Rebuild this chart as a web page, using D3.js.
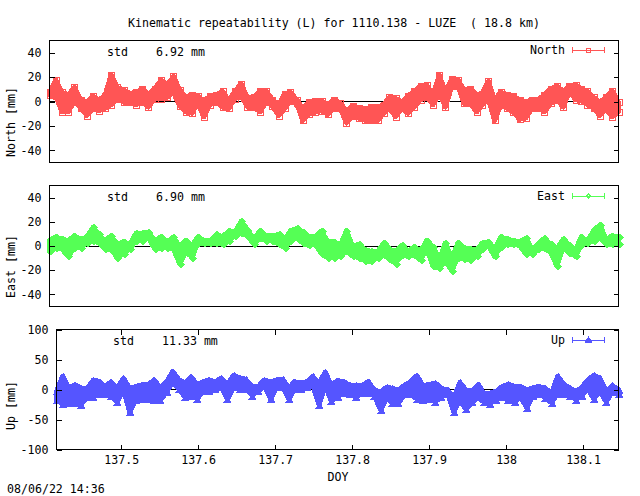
<!DOCTYPE html>
<html>
<head>
<meta charset="utf-8">
<script src="https://cdn.jsdelivr.net/npm/d3@7"></script>
<style>
  body { margin: 0; background: #fff; }
  text { font-family: "DejaVu Sans Mono", monospace; font-size: 11.6px; fill: #000; white-space: pre; }
</style>
</head>
<body>
<svg width="640" height="496"></svg>
<script>
// day of year, one entry per column of the symbol cloud
const doy = [137.416,137.424,137.432,137.440,137.448,137.456,137.464,137.472,137.479,137.487,
137.495,137.503,137.511,137.519,137.527,137.535,137.543,137.551,137.559,137.567,
137.575,137.583,137.591,137.599,137.606,137.614,137.622,137.630,137.638,137.646,
137.654,137.662,137.670,137.678,137.686,137.694,137.702,137.710,137.718,137.725,
137.733,137.741,137.749,137.757,137.765,137.773,137.781,137.789,137.797,137.805,
137.813,137.821,137.829,137.837,137.845,137.852,137.860,137.868,137.876,137.884,
137.892,137.900,137.908,137.916,137.924,137.932,137.940,137.948,137.956,137.964,
137.971,137.979,137.987,137.995,138.003,138.011,138.019,138.027,138.035,138.043,
138.051,138.059,138.067,138.075,138.083,138.091,138.098,138.106,138.114,138.122,
138.130,138.138,138.146];

// upper and lower edge of the cloud in mm
const northHi = [10,20,10,8,14,4,2,7,4,7,24,14,12,9,10,13,8,13,20,16,23,12,6,8,7,3,7,8,11,3,11,17,5,6,11,11,4,0,9,10,4,-3,2,3,
3,0,4,1,-5,-1,-3,-4,-2,-2,0,6,5,2,7,11,15,16,8,24,10,21,20,12,13,8,9,19,4,10,8,7,4,2,4,4,8,13,15,11,15,16,13,11,6,2,6,11,2];
const northLo = [3,2,-11,-11,-2,-8,-14,-8,-10,-8,-5,0,-3,-3,-5,-3,-7,0,0,1,5,-6,-11,-12,-4,-15,-5,-3,-7,-8,0,2,-7,-7,-11,-3,-6,-14,-8,-2,-4,-18,-13,-11,
-10,-13,-8,-8,-20,-14,-16,-18,-18,-18,-12,-8,-15,-8,-12,-7,-1,1,-5,4,-7,10,10,-4,-4,-11,-5,0,-18,-5,-8,-11,-17,-16,-8,-8,-11,-4,-1,-7,6,-1,-2,-5,-8,-14,-9,-15,-11];

const eastHi = [7,10,8,7,11,8,10,18,12,7,11,4,6,4,13,13,14,7,10,6,10,2,7,3,10,7,7,12,10,15,14,23,16,8,15,11,11,12,8,15,17,14,10,10,15,6,6,3,15,2,4,-1,-2,-2,5,0,-2,3,-2,2,-2,
7,2,-9,5,-8,5,1,0,-1,5,6,0,10,8,7,6,9,0,4,9,4,0,8,3,-1,10,7,15,20,8,11,10];
const eastLo = [-7,-4,-5,-11,-4,-4,0,2,0,-5,-5,-12,-9,-5,2,2,4,-5,-4,-4,-5,-17,-7,-12,0,0,0,0,-1,2,6,8,6,-1,4,2,2,-1,-4,2,4,0,-2,-1,-9,-12,-12,-11,-7,-11,-12,-15,-15,-12,-10,-13,-17,-10,-11,-10,-14,
-5,-19,-21,-15,-23,-12,-13,-14,-11,-5,-2,-11,-3,-1,-1,-2,-9,-9,-5,-4,-8,-19,-4,-8,-11,-2,0,2,4,-1,-1,-1];

const upHi = [2,27,7,13,7,7,21,18,10,18,7,24,7,10,13,13,21,7,18,35,21,16,26,13,18,21,18,24,13,29,24,22,10,10,21,18,21,22,7,18,16,18,27,15,34,12,20,18,12,12,12,18,4,1,9,7,4,12,18,28,12,
13,16,7,4,-9,17,4,2,13,-1,-1,2,10,14,10,10,4,8,10,7,-1,27,14,7,2,8,21,29,24,2,12,4];
const upLo = [-23,-29,-28,-28,-30,-18,-18,-12,-12,-15,-26,-4,-43,-23,-21,-21,-23,-23,-9,7,-4,-18,-15,-21,-7,-8,-4,-1,-21,-1,-4,-4,-15,-8,2,-21,-1,-1,-21,-4,-4,-1,2,-31,1,-24,-18,-10,-13,-18,-10,-10,-16,-39,-18,-27,-28,-13,-13,-21,-22,
-21,-25,-18,-12,-42,-23,-38,-26,-18,-26,-29,-22,-18,-23,-25,-18,-36,-15,-12,-19,-27,-12,-12,-16,-22,-15,-4,-21,-7,-26,-9,-12];

const horizTicks = [40, 20, 0, -20, -40];
const upTicks = [100, 50, 0, -50, -100];
const doyTicks = [137.5, 137.6, 137.7, 137.8, 137.9, 138, 138.1];

const panels = [
  { name: "North", hi: northHi, lo: northLo, std: "6.92 mm", color: "#ff5555", symbol: "square",
    domain: [-50, 50], ticks: horizTicks, left: 49.5, top: 40.5, bottom: 162.5,
    stdX: [107, 156], labelY: 122 },
  { name: "East", hi: eastHi, lo: eastLo, std: "6.90 mm", color: "#55ff55", symbol: "diamond",
    domain: [-50, 50], ticks: horizTicks, left: 49.5, top: 185.5, bottom: 306.5,
    stdX: [107, 156], labelY: 266.5 },
  { name: "Up", hi: upHi, lo: upLo, std: "11.33 mm", color: "#5555ff", symbol: "triangle",
    domain: [-100, 100], ticks: upTicks, left: 56.5, top: 329.5, bottom: 449.5,
    stdX: [113, 162], labelY: 405.5, showDoy: true }
];

const right = 618.5;
const half = 3; // half a symbol, in px
const svg = d3.select("svg");

const symbolPath = {
  square: "M-3,-3H3V3H-3Z",
  diamond: "M0,-4L4,0L0,4L-4,0Z",
  triangle: "M0,-4L4,3H-4Z"
};

function drawSymbol(g, kind, color, x, y) {
  g.append("path")
    .attr("d", symbolPath[kind])
    .attr("transform", "translate(" + x + "," + y + ")")
    .attr("fill", kind == "square" ? "none" : color)
    .attr("stroke", kind == "square" ? color : "none")
    .attr("shape-rendering", "crispEdges");
}

svg.append("text")
  .attr("x", 334).attr("y", 27)
  .attr("text-anchor", "middle")
  .text("Kinematic repeatability (L) for 1110.138 - LUZE  ( 18.8 km)");

panels.forEach(p => {
  const x = d3.scaleLinear().domain([137.416, 138.146]).range([p.left, right]);
  const y = d3.scaleLinear().domain(p.domain).range([p.bottom, p.top]);
  const g = svg.append("g");

  // zero line sits under the points
  g.append("line")
    .attr("x1", p.left).attr("x2", right)
    .attr("y1", y(0)).attr("y2", y(0))
    .attr("stroke", "#000")
    .attr("shape-rendering", "crispEdges");

  // hi/lo are the outer edges of the cloud, so the body is pulled in by half a symbol
  const body = d3.area()
    .x(d => x(d))
    .y0((d, i) => y(p.lo[i]) - half)
    .y1((d, i) => y(p.hi[i]) + half);
  const cloud = g.append("g");
  cloud.append("path")
    .attr("d", body(doy))
    .attr("fill", p.color)
    .attr("stroke", p.color)
    .attr("stroke-width", 5)
    .attr("stroke-linejoin", "round")
    .attr("shape-rendering", "crispEdges");
  doy.forEach((d, i) => {
    cloud.append("line")
      .attr("x1", x(d)).attr("x2", x(d))
      .attr("y1", y(p.hi[i]) + half).attr("y2", y(p.lo[i]) - half)
      .attr("stroke", p.color)
      .attr("stroke-width", 5)
      .attr("shape-rendering", "crispEdges");
  });
  doy.forEach((d, i) => {
    drawSymbol(cloud, p.symbol, p.color, Math.round(x(d)) + 0.5, Math.round(y(p.hi[i]) + half) + 0.5);
    drawSymbol(cloud, p.symbol, p.color, Math.round(x(d)) + 0.5, Math.round(y(p.lo[i]) - half) + 0.5);
  });

  // frame and axes
  g.append("rect")
    .attr("x", p.left).attr("y", p.top)
    .attr("width", right - p.left).attr("height", p.bottom - p.top)
    .attr("fill", "none").attr("stroke", "#000")
    .attr("shape-rendering", "crispEdges");

  const yAxis = g.append("g")
    .attr("transform", "translate(" + p.left + ",0)")
    .call(d3.axisLeft(y).tickValues(p.ticks).tickSize(-5).tickPadding(8).tickFormat(String));
  const yAxisRight = g.append("g")
    .attr("transform", "translate(" + right + ",0)")
    .call(d3.axisRight(y).tickValues(p.ticks).tickSize(-5).tickFormat(""));
  const axes = [yAxis, yAxisRight];

  if (p.showDoy) {
    axes.push(g.append("g")
      .attr("transform", "translate(0," + p.bottom + ")")
      .call(d3.axisBottom(x).tickValues(doyTicks).tickSize(-5).tickPadding(6).tickFormat(String)));
    axes.push(g.append("g")
      .attr("transform", "translate(0," + p.top + ")")
      .call(d3.axisTop(x).tickValues(doyTicks).tickSize(-5).tickFormat("")));
  }
  axes.forEach(a => {
    a.select(".domain").remove();
    a.attr("font-family", null).attr("font-size", null);
    a.selectAll("line").attr("stroke", "#000").attr("shape-rendering", "crispEdges");
    a.selectAll("text").attr("fill", "#000");
  });

  // y label
  g.append("text")
    .attr("transform", "translate(15," + p.labelY + ") rotate(-90)")
    .attr("text-anchor", "middle")
    .text(p.name + " [mm]");

  // std note
  g.append("text").attr("x", p.stdX[0]).attr("y", p.top + 15.5).text("std");
  g.append("text").attr("x", p.stdX[1]).attr("y", p.top + 15.5).text(p.std);

  // legend
  const ly = p.top + (p.name == "North" ? 9 : 10);
  g.append("text")
    .attr("x", 565).attr("y", ly + 4)
    .attr("text-anchor", "end")
    .text(p.name);
  const legend = g.append("g")
    .attr("stroke", p.color)
    .attr("shape-rendering", "crispEdges");
  legend.append("line").attr("x1", 572.5).attr("x2", 604.5).attr("y1", ly + 0.5).attr("y2", ly + 0.5);
  legend.append("line").attr("x1", 572.5).attr("x2", 572.5).attr("y1", ly - 2.5).attr("y2", ly + 3.5);
  legend.append("line").attr("x1", 604.5).attr("x2", 604.5).attr("y1", ly - 2.5).attr("y2", ly + 3.5);
  legend.append("path")
    .attr("d", p.symbol == "square" ? "M-2,-2H2V2H-2Z" : p.symbol == "diamond" ? "M0,-2L2,0L0,2L-2,0Z" : "M0,-3L3,2H-3Z")
    .attr("transform", "translate(588.5," + (ly + 0.5) + ")")
    .attr("fill", p.symbol == "triangle" ? p.color : "none");
});

svg.append("text").attr("x", 338).attr("y", 481).attr("text-anchor", "middle").text("DOY");
svg.append("text").attr("x", 7).attr("y", 492.5).text("08/06/22 14:36");
</script>
</body>
</html>
